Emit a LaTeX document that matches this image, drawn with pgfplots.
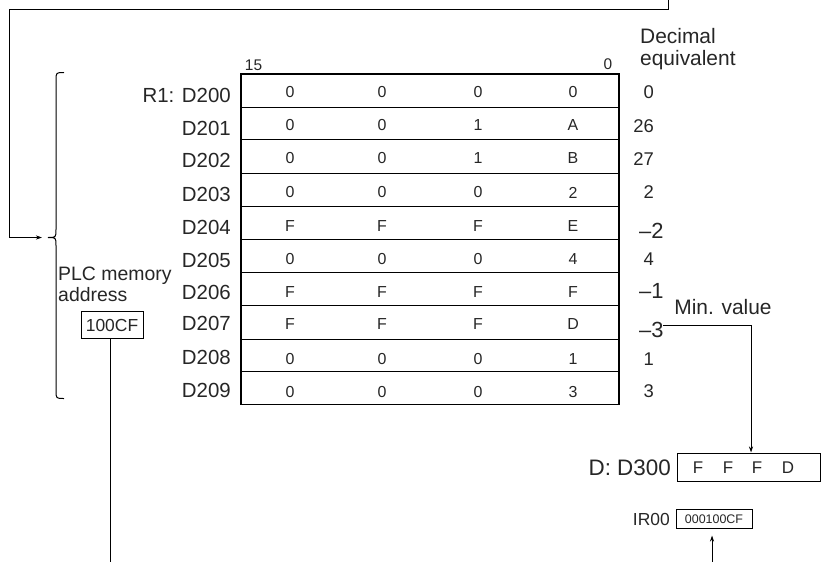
\documentclass[border=0pt]{standalone}
\usepackage{fontspec}
\setmainfont{Liberation Sans}
\usepackage{pgfplots}
\pgfplotsset{compat=1.18}
\usetikzlibrary{arrows.meta}
\definecolor{txt}{gray}{0.15}
\newcommand{\fs}[1]{\fontsize{#1}{#1}\selectfont}
\begin{document}
\begin{tikzpicture}
\begin{axis}[
  width=821bp, height=561bp, scale only axis,
  xmin=0, xmax=821, ymin=0, ymax=561, y dir=reverse,
  hide axis, clip=false,
]
\path (axis cs:0,0) rectangle (axis cs:821,561);
% ---- hex cells
\addplot[only marks, mark=none, nodes near coords, point meta=explicit symbolic,
  every node near coord/.style={anchor=center, font=\fs{16}, text=txt, inner sep=0pt}]
  table[meta=t] {
x y t
290 92 0
382 92 0
478 92 0
573 92 0
290 125 0
382 125 0
478 125 1
573 125 A
290 158 0
382 158 0
478 158 1
573 158 B
290 192 0
382 192 0
478 192 0
573 192 2
290 226 F
382 226 F
478 226 F
573 226 E
290 259 0
382 259 0
478 259 0
573 259 4
290 292 F
382 292 F
478 292 F
573 292 F
290 324 F
382 324 F
478 324 F
573 324 D
290 359 0
382 359 0
478 359 0
573 359 1
290 391.5 0
382 391.5 0
478 391.5 0
573 391.5 3
};
% ---- positive decimal equivalents (right aligned)
\addplot[only marks, mark=none, nodes near coords, point meta=explicit symbolic,
  every node near coord/.style={anchor=east, font=\fs{18.5}, text=txt, inner sep=0pt}]
  table[meta=t] {
x y t
654 92 0
654 125.5 26
654 158.5 27
654 192 2
654 258.5 4
654 359 1
654 391 3
};
% ---- negative decimal equivalents
\addplot[only marks, mark=none, nodes near coords, point meta=explicit symbolic,
  every node near coord/.style={anchor=west, font=\fs{22}, text=txt, inner sep=0pt}]
  table[meta=t] {
x y t
639 230 –2
639 290 –1
639 329 –3
};
% ---- table frame
\draw[line width=1.3bp] (241,106.7) -- (619,106.7);
\draw[line width=1.3bp] (241,139.3) -- (619,139.3);
\draw[line width=1.3bp] (241,172.7) -- (619,172.7);
\draw[line width=1.3bp] (241,206) -- (619,206);
\draw[line width=1.3bp] (241,238.7) -- (619,238.7);
\draw[line width=1.3bp] (241,271.7) -- (619,271.7);
\draw[line width=1.3bp] (241,305) -- (619,305);
\draw[line width=1.3bp] (241,339.3) -- (619,339.3);
\draw[line width=1.3bp] (241,370.7) -- (619,370.7);
\draw[line width=1.7bp] (241,73.3) rectangle (619,404);
% ---- row labels
\node[anchor=east, font=\fs{20.5}, text=txt, inner sep=0pt] at (231,94.5) {R1: D200};
\node[anchor=east, font=\fs{20.5}, text=txt, inner sep=0pt] at (231,127.5) {D201};
\node[anchor=east, font=\fs{20.5}, text=txt, inner sep=0pt] at (231,160) {D202};
\node[anchor=east, font=\fs{20.5}, text=txt, inner sep=0pt] at (231,193.5) {D203};
\node[anchor=east, font=\fs{20.5}, text=txt, inner sep=0pt] at (231,226.5) {D204};
\node[anchor=east, font=\fs{20.5}, text=txt, inner sep=0pt] at (231,259.5) {D205};
\node[anchor=east, font=\fs{20.5}, text=txt, inner sep=0pt] at (231,291.5) {D206};
\node[anchor=east, font=\fs{20.5}, text=txt, inner sep=0pt] at (231,323) {D207};
\node[anchor=east, font=\fs{20.5}, text=txt, inner sep=0pt] at (231,357) {D208};
\node[anchor=east, font=\fs{20.5}, text=txt, inner sep=0pt] at (231,389.5) {D209};
% ---- bit labels
\node[anchor=center, font=\fs{15.5}, text=txt, inner sep=0pt] at (253.5,65) {15};
\node[anchor=center, font=\fs{15.5}, text=txt, inner sep=0pt] at (608,64) {0};
% ---- header
\node[anchor=base west, font=\fs{21}, text=txt, inner sep=0pt] at (640,43) {Decimal};
\node[anchor=base west, font=\fs{21}, text=txt, inner sep=0pt] at (640,65) {equivalent};
% ---- top feedback line with arrow to brace
\draw[line width=1bp] (668,0) -- (668,9) -- (9,9) -- (9,237);
\draw[line width=1bp, -{Stealth[length=6bp,width=4bp]}] (9,237) -- (42,237);
% ---- brace
\draw[line width=1bp] (64,72) .. controls (56,72) .. (56,80) -- (56,229)
  .. controls (56,237) .. (48,237) .. controls (56,237) .. (56,245)
  -- (56,390) .. controls (56,398) .. (64,398);
% ---- PLC memory address
\node[anchor=base west, font=\fs{19.5}, text=txt, inner sep=0pt] at (58,280) {PLC memory};
\node[anchor=base west, font=\fs{19.5}, text=txt, inner sep=0pt] at (58,301) {address};
\draw[line width=1bp] (81,311) rectangle (143,338);
\node[anchor=center, font=\fs{17.5}, text=txt, inner sep=0pt] at (112,324.5) {100CF};
\draw[line width=1bp] (110,338) -- (110,561);
% ---- Min. value
\node[anchor=center, font=\fs{21}, text=txt, inner sep=0pt] at (723,307) {Min. value};
\draw[line width=1bp, -{Stealth[length=6bp,width=4bp]}] (663,325) -- (751,325) -- (751,452);
% ---- D300
\draw[line width=1bp] (677,453) rectangle (820,481);
\node[anchor=east, font=\fs{22.5}, text=txt, inner sep=0pt] at (671,467) {D: D300};
\node[anchor=center, font=\fs{17}, text=txt, inner sep=0pt] at (698,467) {F};
\node[anchor=center, font=\fs{17}, text=txt, inner sep=0pt] at (728,467) {F};
\node[anchor=center, font=\fs{17}, text=txt, inner sep=0pt] at (757,467) {F};
\node[anchor=center, font=\fs{17}, text=txt, inner sep=0pt] at (788,467) {D};
% ---- IR00
\draw[line width=1bp] (676,509) rectangle (752,528);
\node[anchor=east, font=\fs{17.5}, text=txt, inner sep=0pt] at (670,518.5) {IR00};
\node[anchor=center, font=\fs{12.5}, text=txt, inner sep=0pt] at (714,518.5) {000100CF};
\draw[line width=1bp, -{Stealth[length=6bp,width=4bp]}] (712,561) -- (712,535);
\end{axis}
\end{tikzpicture}
\end{document}
